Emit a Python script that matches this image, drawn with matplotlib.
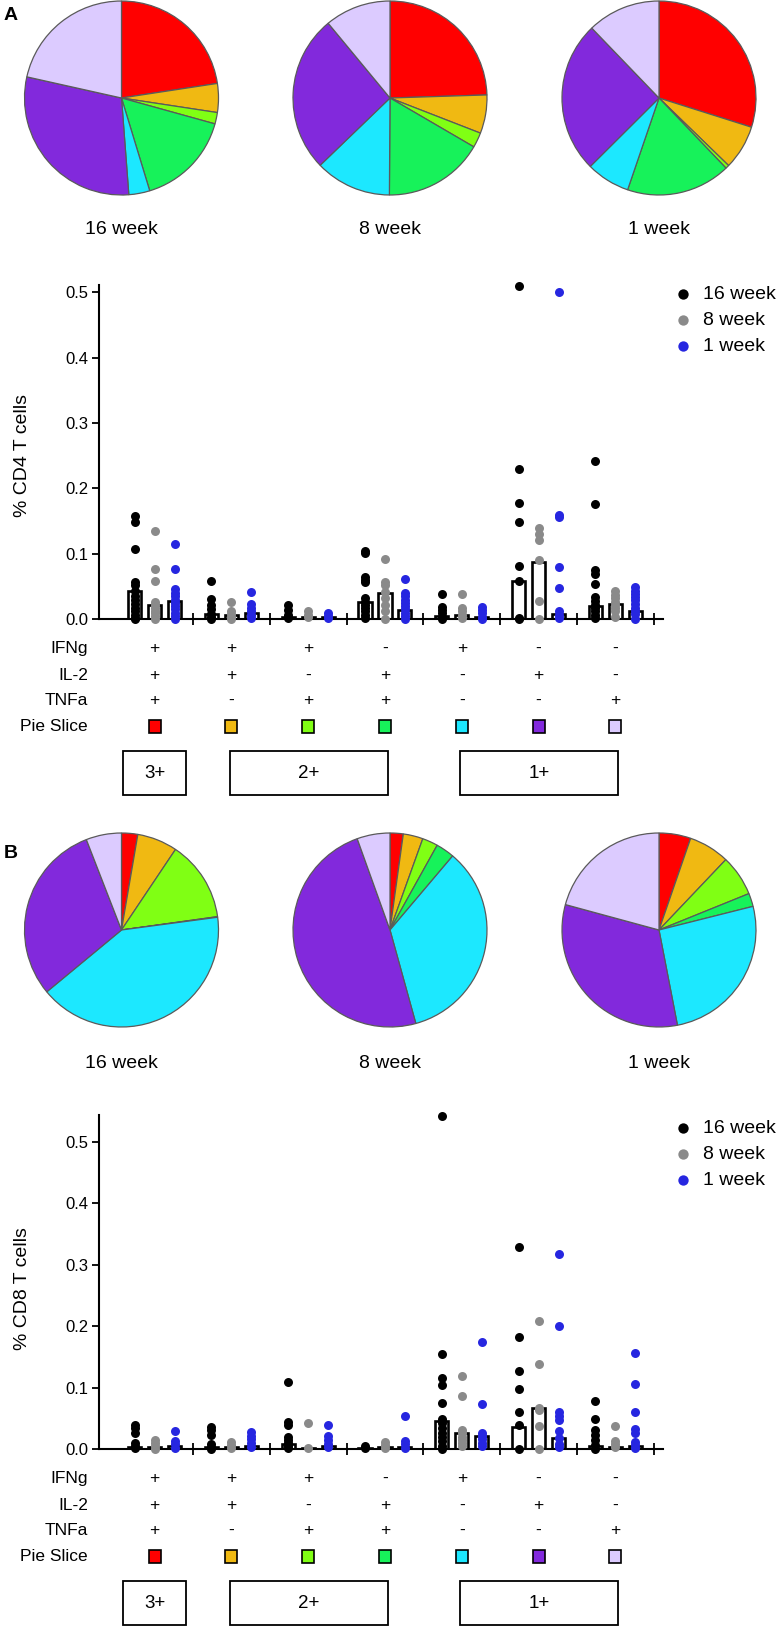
import numpy as np
import matplotlib
matplotlib.use("Agg")
import matplotlib.pyplot as plt
from matplotlib.patches import Rectangle

W, H = 780, 1627

# ---- data -----------------------------------------------------------------
weeks = ["16 week", "8 week", "1 week"]
series_colors = ["#000000", "#8a8a8a", "#2626e0"]
slice_colors = ["#ff0000", "#f0b912", "#80ff14", "#17f25a", "#1ce8ff", "#8229dc", "#dccbff"]

# pie fractions (% of responding cells), slice order red..lavender
pie_cd4 = [
    [22.6, 4.8, 1.9, 16.0, 3.5, 29.7, 21.5],
    [24.5, 6.4, 2.5, 16.7, 12.7, 26.2, 11.0],
    [29.9, 7.4, 0.6, 17.4, 7.3, 25.3, 12.2],
]
pie_cd8 = [
    [2.7, 6.7, 13.4, 0.1, 41.1, 30.1, 5.9],
    [2.2, 3.3, 2.6, 3.1, 34.6, 48.9, 5.5],
    [5.3, 6.8, 6.8, 2.2, 25.9, 32.3, 20.8],
]

ifng = ["+", "+", "+", "-", "+", "-", "-"]
il2 = ["+", "+", "-", "+", "-", "+", "-"]
tnfa = ["+", "-", "+", "+", "-", "-", "+"]

box_labels = ["3+", "2+", "1+"]
box_groups = [(0, 0), (1, 3), (4, 6)]

# per-animal values, one list per functional subset
cd4_16wk = [
    [0.158, 0.148, 0.107, 0.057, 0.052, 0.043, 0.036, 0.030, 0.024, 0.018, 0.012, 0.006, 0.002, 0.0],
    [0.059, 0.031, 0.022, 0.015, 0.008, 0.003, 0.0],
    [0.022, 0.014, 0.007, 0.002],
    [0.105, 0.101, 0.065, 0.060, 0.057, 0.032, 0.027, 0.022, 0.017, 0.012, 0.007, 0.002],
    [0.039, 0.019, 0.014, 0.009, 0.004, 0.001],
    [0.510, 0.229, 0.178, 0.148, 0.081, 0.058, 0.002, 0.0],
    [0.242, 0.176, 0.075, 0.070, 0.054, 0.034, 0.028, 0.022, 0.017, 0.012, 0.007, 0.002],
]
cd4_8wk = [
    [0.135, 0.077, 0.059, 0.026, 0.022, 0.018, 0.013, 0.009, 0.005, 0.0],
    [0.026, 0.013, 0.008, 0.004, 0.0],
    [0.012, 0.007, 0.003],
    [0.092, 0.057, 0.052, 0.042, 0.032, 0.022, 0.012, 0.001],
    [0.039, 0.017, 0.012, 0.007, 0.002],
    [0.139, 0.131, 0.121, 0.090, 0.028, 0.001],
    [0.043, 0.037, 0.032, 0.027, 0.022, 0.017, 0.012, 0.004],
]
cd4_1wk = [
    [0.115, 0.077, 0.046, 0.040, 0.035, 0.030, 0.025, 0.020, 0.015, 0.010, 0.005, 0.0],
    [0.041, 0.023, 0.017, 0.012, 0.007, 0.002],
    [0.010, 0.005, 0.002],
    [0.062, 0.040, 0.035, 0.030, 0.025, 0.020, 0.015, 0.010, 0.005, 0.001],
    [0.019, 0.014, 0.009, 0.004, 0.001],
    [0.500, 0.159, 0.156, 0.080, 0.048, 0.012, 0.007, 0.002],
    [0.049, 0.044, 0.039, 0.034, 0.029, 0.023, 0.018, 0.013, 0.008, 0.001],
]
cd4_bars = [
    [0.043, 0.008, 0.004, 0.027, 0.005, 0.058, 0.020],
    [0.022, 0.006, 0.003, 0.040, 0.006, 0.088, 0.023],
    [0.028, 0.010, 0.003, 0.014, 0.003, 0.008, 0.012],
]

cd8_16wk = [
    [0.040, 0.034, 0.026, 0.011, 0.006, 0.002],
    [0.037, 0.032, 0.023, 0.008, 0.003, 0.001],
    [0.110, 0.045, 0.040, 0.020, 0.015, 0.010, 0.005, 0.002],
    [0.005, 0.002],
    [0.543, 0.155, 0.116, 0.105, 0.076, 0.049, 0.042, 0.034, 0.027, 0.020, 0.013, 0.006, 0.001],
    [0.329, 0.182, 0.128, 0.098, 0.060, 0.040, 0.001],
    [0.079, 0.049, 0.031, 0.023, 0.015, 0.007, 0.001],
]
cd8_8wk = [
    [0.015, 0.010, 0.005, 0.001],
    [0.012, 0.007, 0.002],
    [0.042, 0.002],
    [0.012, 0.007, 0.002],
    [0.119, 0.087, 0.031, 0.026, 0.020, 0.015, 0.010, 0.005],
    [0.209, 0.138, 0.068, 0.064, 0.038, 0.001],
    [0.038, 0.014, 0.009, 0.003],
]
cd8_1wk = [
    [0.030, 0.013, 0.008, 0.002],
    [0.028, 0.022, 0.016, 0.010, 0.003],
    [0.039, 0.021, 0.015, 0.009, 0.003],
    [0.055, 0.013, 0.008, 0.002],
    [0.174, 0.073, 0.026, 0.022, 0.016, 0.010, 0.005],
    [0.318, 0.201, 0.060, 0.055, 0.048, 0.030, 0.018, 0.008, 0.003],
    [0.157, 0.106, 0.060, 0.033, 0.026, 0.012, 0.007, 0.002],
]
cd8_bars = [
    [0.004, 0.004, 0.008, 0.002, 0.046, 0.037, 0.005],
    [0.004, 0.003, 0.002, 0.003, 0.027, 0.067, 0.004],
    [0.005, 0.005, 0.005, 0.004, 0.022, 0.018, 0.006],
]

# ---- layout (pixels) ------------------------------------------------------
plt.rcParams["font.family"] = ["Liberation Sans", "DejaVu Sans"]
fig = plt.figure(figsize=(W / 100, H / 100), dpi=100)

pie_x = [121.5, 390, 659]
offsets = [-0.26, 0.0, 0.26]
x_lim = (-0.72, 6.62)


def px_axes(left, top, right, bottom):
    return fig.add_axes([left / W, 1 - bottom / H, (right - left) / W, (bottom - top) / H])


def draw_pies(fracs, cy, label_y):
    for cx, vals, wk in zip(pie_x, fracs, weeks):
        ax = px_axes(cx - 100, cy - 100, cx + 100, cy + 100)
        ax.pie(vals, colors=slice_colors, startangle=90, counterclock=False,
               wedgeprops=dict(edgecolor="#5a5a5a", linewidth=0.9))
        ax.set_xlim(-1.031, 1.031)
        ax.set_ylim(-1.031, 1.031)
        ax.set_aspect("equal")
        ax.axis("off")
        fig.text(cx / W, 1 - label_y / H, wk, ha="center", va="center", fontsize=14)


def draw_panel(top, zero_y, ymax, dots, bars, ylabel, legend_top, ylab_y):
    ax = px_axes(99.3, top, 663, zero_y)
    groups = np.arange(7)
    handles = []
    for s, (vals, bar_vals) in enumerate(zip(dots, bars)):
        ax.bar(groups + offsets[s], bar_vals, width=0.17, facecolor="white",
               edgecolor="black", linewidth=1.9, zorder=2)
        for g, v in enumerate(vals):
            h = ax.scatter(np.full(len(v), g + offsets[s]), v, s=42,
                           color=series_colors[s], linewidths=0, zorder=3, clip_on=False)
        handles.append(h)
    ax.set_xlim(*x_lim)
    ax.set_ylim(0, ymax)
    ax.set_yticks(np.arange(0, 0.51, 0.1))
    ax.set_yticklabels([f"{t:.1f}" for t in np.arange(0, 0.51, 0.1)])
    ax.set_xticks(groups + 0.5)
    ax.tick_params(axis="x", direction="inout", length=8, width=1.3, labelbottom=False)
    ax.tick_params(axis="y", direction="out", length=5, width=1.3, labelsize=12, pad=3)
    for side in ("top", "right"):
        ax.spines[side].set_visible(False)
    for side in ("left", "bottom"):
        ax.spines[side].set_linewidth(1.5)
    ax.set_ylabel(ylabel, fontsize=14)
    ax.yaxis.set_label_coords(-0.121, ylab_y)
    ax.legend(handles, weeks, loc="upper left",
              bbox_to_anchor=(671 / W, 1 - legend_top / H), bbox_transform=fig.transFigure,
              frameon=False, fontsize=14, handlelength=1.2, handletextpad=0.45,
              labelspacing=0.45, borderpad=0, borderaxespad=0, markerscale=1.15)

    # table of cytokine combinations under the axis (y in pixels below zero line)
    tb = px_axes(99.3, zero_y, 663, zero_y + 178)
    tb.set_xlim(*x_lim)
    tb.set_ylim(178, 0)
    tb.axis("off")
    rows = [("IFNg", ifng, 29), ("IL-2", il2, 56.5), ("TNFa", tnfa, 81)]
    for name, syms, y in rows:
        tb.text(-0.87, y, name, ha="right", va="center", fontsize=12.5)
        for g, sym in enumerate(syms):
            tb.text(g, y, sym, ha="center", va="center", fontsize=12.5)
    tb.text(-0.87, 107, "Pie Slice", ha="right", va="center", fontsize=12.5)
    for g, c in enumerate(slice_colors):
        tb.add_patch(Rectangle((g - 0.078, 107 - 6.5), 0.156, 13, facecolor=c,
                               edgecolor="black", linewidth=1.2, clip_on=False))
    for lab, (g0, g1) in zip(box_labels, box_groups):
        pad = 0.41 if g0 == g1 else 0.02
        left, right = g0 - pad, g1 + pad + (0.02 if g0 != g1 else 0)
        tb.add_patch(Rectangle((left, 132), right - left, 44, fill=False,
                               edgecolor="black", linewidth=1.3, clip_on=False))
        tb.text((left + right) / 2, 154, lab, ha="center", va="center", fontsize=13.5)


# panel A: CD4
fig.text(10.7 / W, 1 - 15.5 / H, "A", ha="center", va="center", fontsize=14, fontweight="bold")
draw_pies(pie_cd4, 98, 230)
draw_panel(285, 619.3, 0.511, [cd4_16wk, cd4_8wk, cd4_1wk], cd4_bars,
           "% CD4 T cells", 285, 0.49)

# panel B: CD8
fig.text(11 / W, 1 - 853 / H, "B", ha="center", va="center", fontsize=14, fontweight="bold")
draw_pies(pie_cd8, 930, 1063)
draw_panel(1115, 1449.3, 0.544, [cd8_16wk, cd8_8wk, cd8_1wk], cd8_bars,
           "% CD8 T cells", 1119, 0.48)

fig.savefig("out.png", dpi=100)
